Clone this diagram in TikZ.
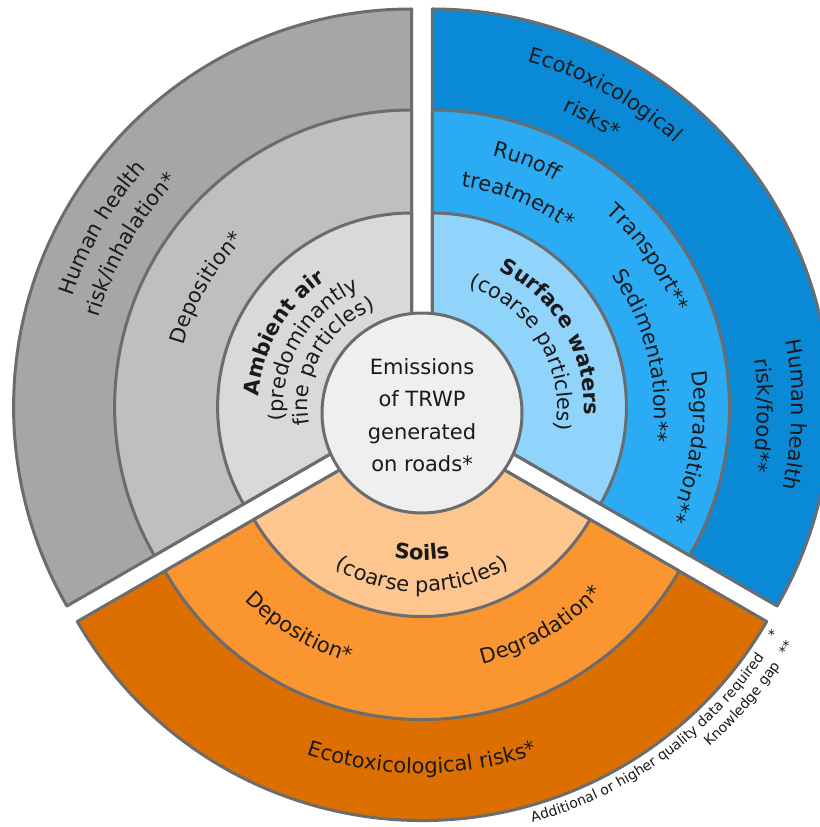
\documentclass[tikz,border=0pt]{standalone}
\usepackage{fontspec}
\setmainfont{DejaVu Sans}
\usetikzlibrary{decorations.text}

\definecolor{airout}{HTML}{A6A6A6}
\definecolor{airmid}{HTML}{BFBFBF}
\definecolor{airin}{HTML}{D9D9D9}
\definecolor{watout}{HTML}{0A89D6}
\definecolor{watmid}{HTML}{2AABF4}
\definecolor{watin}{HTML}{90D3FB}
\definecolor{soilout}{HTML}{DD6E00}
\definecolor{soilmid}{HTML}{FA952F}
\definecolor{soilin}{HTML}{FDC68F}
\definecolor{core}{HTML}{EFEFEF}
\definecolor{rim}{HTML}{6B6C6E}
\definecolor{ink}{HTML}{1A1A1A}

\newcommand{\rfont}{\fontsize{21}{25}\selectfont}
\newcommand{\cfont}{\fontsize{21}{32.5}\selectfont}
\newcommand{\nfont}{\fontsize{14}{17}\selectfont}

% one piece of a sector: centre, from, to, radius, fill
\newcommand{\ringpart}[5]{%
  \draw[rimline,fill=#5,shift={(#1)}] (0,0) -- (#2:#4) arc[start angle=#2,end angle=#3,radius=#4] -- cycle;}
% text on an arc, read clockwise (upper part)
\newcommand{\cwtext}[5][]{%
  \path[shift={(#2)},decorate,decoration={text along path,text align=center,text={|\rfont\color{ink}#1|#5}}]
    (#3+85:#4) arc[start angle=#3+85,end angle=#3-85,radius=#4];}
% text on an arc, read counter-clockwise (lower part)
\newcommand{\ccwtext}[5][]{%
  \path[shift={(#2)},decorate,decoration={text along path,text align=center,text={|\rfont\color{ink}#1|#5}}]
    (#3-85:#4) arc[start angle=#3-85,end angle=#3+85,radius=#4];}

\begin{document}
\begin{tikzpicture}[x=1pt,y=1pt,
    rimline/.style={draw=rim,line width=3pt,line join=round}]
  \useasboundingbox (-422,-414) rectangle (397,413);

  \coordinate (air)   at (150:12);
  \coordinate (water) at (30:12);
  \coordinate (soil)  at (270:9.5);

  \ringpart{air}{90}{210}{398}{airout}
  \ringpart{air}{90}{210}{297}{airmid}
  \ringpart{air}{90}{210}{194}{airin}

  \ringpart{water}{-30}{90}{398}{watout}
  \ringpart{water}{-30}{90}{297}{watmid}
  \ringpart{water}{-30}{90}{194}{watin}

  \ringpart{soil}{210}{330}{398}{soilout}
  \ringpart{soil}{210}{330}{297}{soilmid}
  \ringpart{soil}{210}{330}{194}{soilin}

  \draw[rimline,fill=core] (0,0) circle[radius=100];
  \node[font=\cfont,align=center,text=ink] (emis) at (0,-2)
    {Emissions\\of TRWP\\generated\\on roads*};

  % ambient air
  \cwtext{air}{150}{356.5}{Human health}
  \cwtext{air}{150}{325.5}{risk/inhalation*}
  \cwtext{air}{150}{236.5}{Deposition*}
  \cwtext[\bfseries]{air}{150}{153}{Ambient air}
  \cwtext{air}{150}{128}{(predominantly}
  \cwtext{air}{150}{104}{fine particles)}

  % surface waters
  \cwtext{water}{61}{358}{Ecotoxicological}
  \cwtext{water}{61}{323.5}{risks*}
  \cwtext{water}{68.9}{258}{Runoff}
  \cwtext{water}{67.6}{222.5}{treatment*}
  \cwtext{water}{34.75}{260.5}{Transport**}
  \cwtext{water}{13.7}{221.5}{Sedimentation**}
  \cwtext{water}{-8.75}{261.5}{Degradation**}
  \cwtext{water}{-1.2}{359.5}{Human health}
  \cwtext{water}{-1.5}{325.5}{risk/food**}
  \cwtext[\bfseries]{water}{30.5}{152}{Surface waters}
  \cwtext{water}{31.4}{125}{(coarse particles)}

  % soils
  \ccwtext[\bfseries]{soil}{270}{137.5}{Soils}
  \ccwtext{soil}{270}{169.5}{(coarse particles)}
  \ccwtext{soil}{239.2}{251}{Deposition*}
  \ccwtext{soil}{300.25}{249}{Degradation*}
  \ccwtext{soil}{270}{351}{Ecotoxicological risks*}

  % key
  \ccwtext[\nfont]{soil}{305.5}{415}{Additional or higher quality data required}
  \ccwtext[\nfont]{soil}{329}{415}{*}
  \ccwtext[\nfont]{soil}{318.7}{433}{Knowledge gap}
  \ccwtext[\nfont]{soil}{328.3}{433}{**}
\end{tikzpicture}
\end{document}
